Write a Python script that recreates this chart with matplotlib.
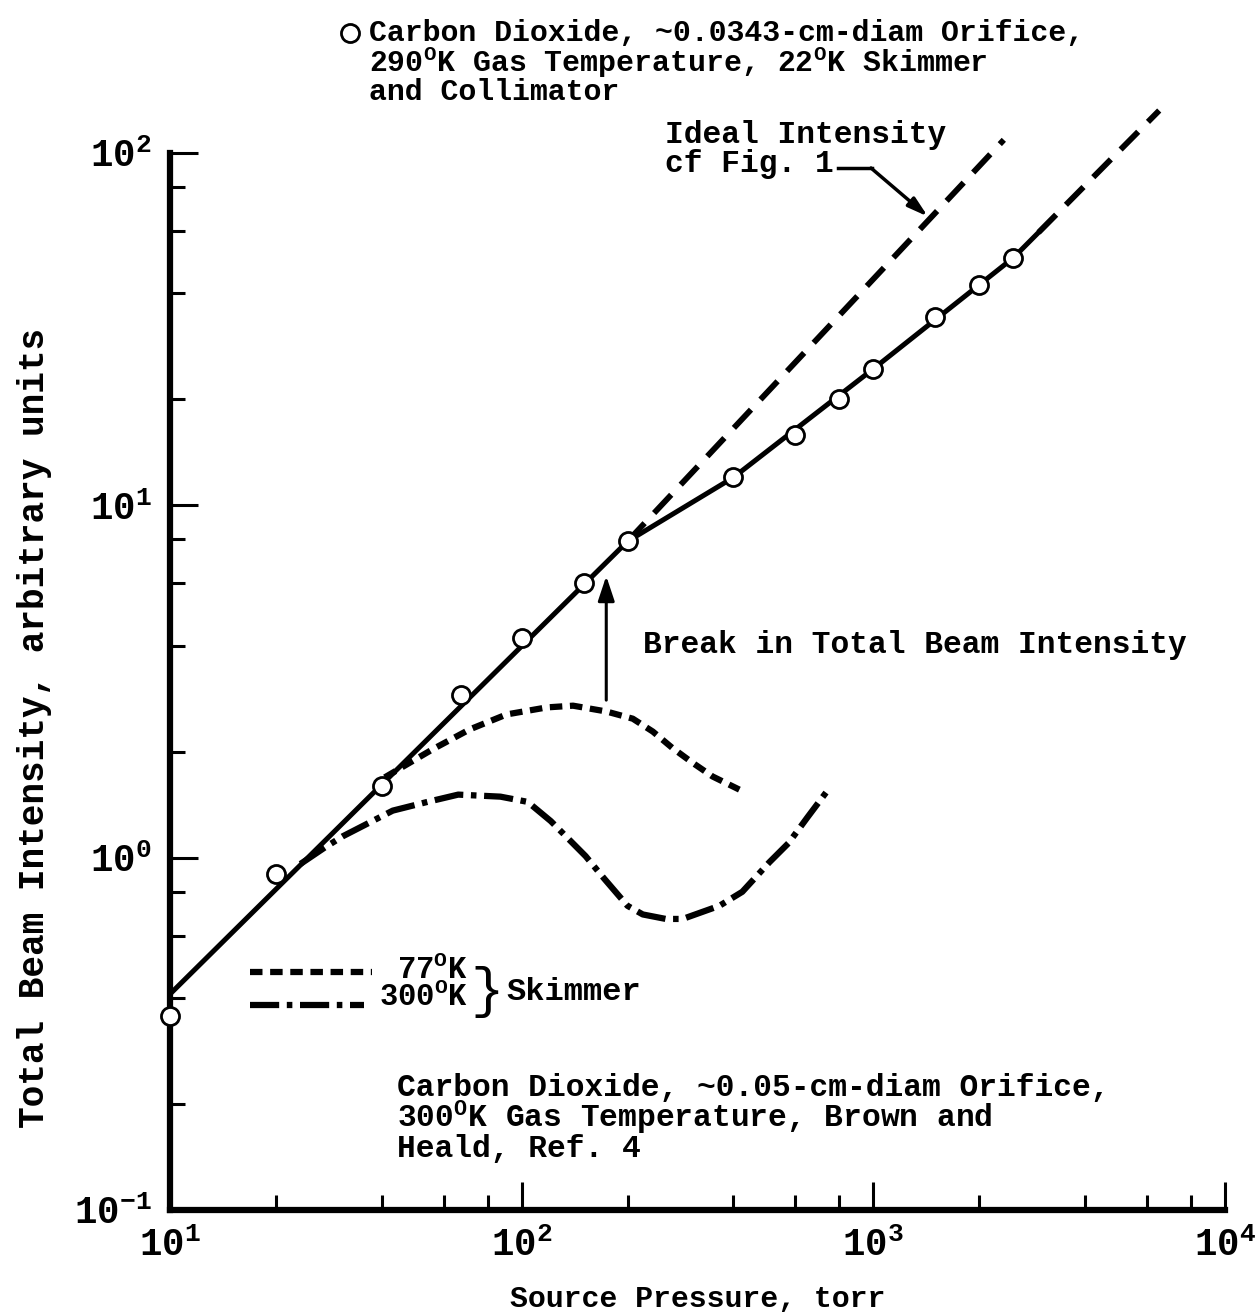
import matplotlib
matplotlib.use("Agg")
import matplotlib.pyplot as plt
from matplotlib.ticker import LogLocator, FixedLocator, NullFormatter
from matplotlib.lines import Line2D

# measured points, CO2, 0.0343 cm orifice (open circles)
p_torr = [10, 20, 40, 67, 100, 150, 200, 400, 600, 800, 1000, 1500, 2000, 2500]
beam = [0.356, 0.9, 1.6, 2.9, 4.2, 6.0, 7.9, 12.0, 15.8, 20.0, 24.4, 34.3, 42.2, 50.4]

# faired solid curve and its dashed extension
fit_p = [10, 200, 400, 1000, 2500, 2950]
fit_i = [0.41, 7.9, 12.0, 24.4, 50.4, 59.5]
ext_p = [2950, 6500]
ext_i = [59.5, 132]

# ideal intensity (cf Fig. 1)
ideal_p = [200, 2350]
ideal_i = [7.9, 109]

# Brown and Heald, 77 K skimmer
b77_p = [40.8, 55.8, 71, 90.6, 118, 140, 174, 207, 236, 268, 306, 349, 416]
b77_i = [1.69, 2.03, 2.31, 2.55, 2.67, 2.70, 2.60, 2.48, 2.28, 2.05, 1.86, 1.70, 1.56]

# Brown and Heald, 300 K skimmer
b300_p = [23.5, 27.6, 31, 43, 54, 66, 87, 104, 121, 152, 172, 200, 221, 257, 287,
          365, 424, 506, 574, 649, 755]
b300_i = [0.96, 1.07, 1.15, 1.36, 1.44, 1.51, 1.49, 1.44, 1.27, 1.01, 0.87, 0.73,
          0.69, 0.67, 0.67, 0.73, 0.80, 0.97, 1.10, 1.30, 1.59]

# break arrow
break_p = 174
break_from, break_to = 2.8, 6.3

plt.rcParams['font.family'] = 'Liberation Mono'
plt.rcParams['font.weight'] = 'bold'
plt.rcParams['axes.labelweight'] = 'bold'
plt.rcParams['mathtext.fontset'] = 'custom'
plt.rcParams['mathtext.rm'] = 'Liberation Mono:bold'
plt.rcParams['mathtext.it'] = 'Liberation Mono:bold'
plt.rcParams['mathtext.bf'] = 'Liberation Mono:bold'
plt.rcParams['lines.scale_dashes'] = False

W, H = 1255, 1312
fig = plt.figure(figsize=(W / 100, H / 100), dpi=100)
ax = fig.add_axes([170 / W, 1 - 1210 / H, 1055 / W, 1057 / H])


def fpos(x, y):
    # pixel position in the page -> figure fraction
    return x / W, 1 - y / H


ax.set_xscale('log')
ax.set_yscale('log')
ax.set_xlim(10, 1e4)
ax.set_ylim(0.1, 100)

# curves
ax.plot(fit_p, fit_i, color='black', lw=3.6, solid_capstyle='round', zorder=3)
ax.plot(ext_p, ext_i, color='black', lw=4.2, dashes=(18, 10), clip_on=False, zorder=3)
ax.plot(ideal_p, ideal_i, color='black', lw=4.2, dashes=(18, 10), clip_on=False, zorder=3)
ax.plot(b77_p, b77_i, color='black', lw=4.5, dashes=(9, 5.5), zorder=3)
ax.plot(b300_p, b300_i, color='black', lw=4.5, dashes=(21, 5.5, 4, 5.5), zorder=3)
ax.plot(p_torr, beam, 'o', ms=13, mfc='white', mec='black', mew=2.0,
        clip_on=False, zorder=5)

# break arrow
ax.annotate('', xy=(break_p, break_to), xytext=(break_p, break_from),
            arrowprops=dict(arrowstyle='-|>,head_length=1.5,head_width=0.5',
                            color='black', lw=2.2, shrinkA=0, shrinkB=0))
fig.text(*fpos(643, 645), 'Break in Total Beam Intensity', fontsize=22.5,
         ha='left', va='center')

# ideal intensity label with leader
fig.text(*fpos(665, 120), 'Ideal Intensity\ncf Fig. 1', fontsize=22.5,
         ha='left', va='top', linespacing=0.95)
fig.add_artist(Line2D([838 / W, 872 / W], [1 - 168 / H, 1 - 168 / H],
                      color='black', lw=2.5))
ax.annotate('', xy=(1430, 66), xycoords='data',
            xytext=fpos(871, 168), textcoords='figure fraction',
            arrowprops=dict(arrowstyle='-|>,head_length=1.2,head_width=0.35',
                            color='black', lw=2.5, shrinkA=0, shrinkB=0))

# header text with symbol key
fig.add_artist(Line2D([350 / W], [1 - 33 / H], marker='o', ms=13, mfc='white',
                      mec='black', mew=2.0))
fig.text(*fpos(369, 19),
         'Carbon Dioxide, ~0.0343-cm-diam Orifice,\n'
         r'$\mathregular{290^{O}}$K Gas Temperature, $\mathregular{22^{O}}$K Skimmer' '\n'
         'and Collimator',
         fontsize=21.5, ha='left', va='top', linespacing=0.92)

# Brown and Heald note
fig.text(*fpos(397, 1073),
         'Carbon Dioxide, ~0.05-cm-diam Orifice,\n'
         r'$\mathregular{300^{O}}$K Gas Temperature, Brown and' '\n'
         'Heald, Ref. 4',
         fontsize=22.5, ha='left', va='top', linespacing=0.86)

# skimmer key
fig.add_artist(Line2D([250 / W, 372 / W], [1 - 972 / H, 1 - 972 / H], color='black',
                      lw=4.5, dashes=(9, 5.5)))
fig.add_artist(Line2D([250 / W, 364 / W], [1 - 1005 / H, 1 - 1005 / H], color='black',
                      lw=4.5, dashes=(21, 5.5, 4, 5.5)))
fig.text(*fpos(468, 955), r'$\mathregular{77^{O}}$K' '\n' r'$\mathregular{300^{O}}$K',
         fontsize=22, ha='right', va='top', multialignment='right', linespacing=0.85)
fig.text(*fpos(487, 992), '}', fontsize=40, fontweight='normal', ha='center', va='center')
fig.text(*fpos(506, 992), 'Skimmer', fontsize=23, ha='left', va='center')

# axes styling
for s in ['top', 'right']:
    ax.spines[s].set_visible(False)
for s in ['left', 'bottom']:
    ax.spines[s].set_linewidth(4.5)
    ax.spines[s].set_capstyle('projecting')

ax.xaxis.set_major_locator(FixedLocator([10, 100, 1000, 10000]))
ax.yaxis.set_major_locator(FixedLocator([0.1, 1, 10, 100]))
ax.xaxis.set_minor_locator(LogLocator(base=10, subs=[2, 4, 6, 8]))
ax.yaxis.set_minor_locator(LogLocator(base=10, subs=[2, 4, 6, 8]))
ax.xaxis.set_minor_formatter(NullFormatter())
ax.yaxis.set_minor_formatter(NullFormatter())
ax.set_xticklabels([r'$\mathregular{10^{1}}$', r'$\mathregular{10^{2}}$',
                    r'$\mathregular{10^{3}}$', r'$\mathregular{10^{4}}$'])
ax.set_yticklabels([r'$\mathregular{10^{-1}}$', r'$\mathregular{10^{0}}$',
                    r'$\mathregular{10^{1}}$', r'$\mathregular{10^{2}}$'])
ax.tick_params(which='major', direction='in', length=20, width=2.2, labelsize=27)
ax.tick_params(which='minor', direction='in', length=11, width=2.2)
ax.tick_params(axis='y', which='major', pad=13)
ax.tick_params(axis='x', which='major', pad=12)

ax.set_xlabel('Source Pressure, torr', fontsize=21.5)
ax.set_ylabel('Total Beam Intensity, arbitrary units', fontsize=26)
ax.xaxis.set_label_coords(0.5, -0.071)
ax.yaxis.set_label_coords(-0.112, 0.456)

plt.savefig('out.png', dpi=100)
plt.close()
